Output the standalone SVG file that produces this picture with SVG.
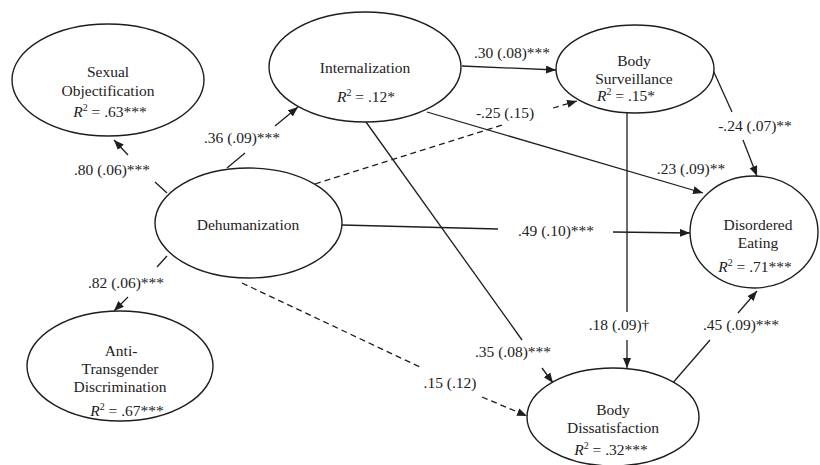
<svg xmlns="http://www.w3.org/2000/svg" width="820" height="465" viewBox="0 0 820 465">
  <defs>
    <marker id="arrow" markerUnits="userSpaceOnUse" markerWidth="11" markerHeight="9" refX="10" refY="4" orient="auto">
      <path d="M0,0 L10,4 L0,8 Z" fill="#1e1e1e"/>
    </marker>
    <style>
      .node ellipse { fill: #ffffff; stroke: #1e1e1e; stroke-width: 1.4; }
      text { font-family: "Liberation Serif", "Times New Roman", serif; font-size: 15.5px; fill: #222; text-anchor: middle; }
      .r { font-style: italic; }
      .sup { font-size: 10px; }
      .edge { stroke: #1e1e1e; stroke-width: 1.3; fill: none; }
      .arr { marker-end: url(#arrow); }
      .dash { stroke-dasharray: 6 4; }
    </style>
  </defs>
  <rect width="820" height="465" fill="#ffffff"/>

  <!-- paths (each path is drawn in two pieces around its coefficient label) -->
  <g id="connectors">
    <!-- Dehumanization -> Sexual Objectification -->
    <line class="edge" x1="167" y1="193" x2="155" y2="182"/>
    <line class="edge arr" x1="128" y1="155" x2="114" y2="140"/>
    <!-- Dehumanization -> Internalization -->
    <line class="edge" x1="227" y1="168" x2="245" y2="153"/>
    <line class="edge arr" x1="275" y1="126" x2="298" y2="107"/>
    <!-- Internalization -> Body Surveillance -->
    <line class="edge arr" x1="462" y1="66" x2="556" y2="70"/>
    <!-- Dehumanization -> Body Surveillance (n.s.) -->
    <line class="edge dash" x1="315" y1="184" x2="502" y2="125"/>
    <line class="edge dash arr" x1="553" y1="108" x2="577" y2="101"/>
    <!-- Internalization -> Disordered Eating -->
    <line class="edge arr" x1="427" y1="112" x2="703" y2="193"/>
    <!-- Internalization -> Body Dissatisfaction -->
    <line class="edge" x1="366" y1="122" x2="522" y2="340"/>
    <line class="edge arr" x1="542" y1="368" x2="553" y2="383"/>
    <!-- Body Surveillance -> Disordered Eating -->
    <line class="edge" x1="713" y1="70" x2="732" y2="112"/>
    <line class="edge arr" x1="743" y1="140" x2="757" y2="176"/>
    <!-- Body Surveillance -> Body Dissatisfaction -->
    <line class="edge" x1="627" y1="113" x2="627" y2="312"/>
    <line class="edge arr" x1="627" y1="340" x2="627" y2="368"/>
    <!-- Dehumanization -> Disordered Eating -->
    <line class="edge" x1="342" y1="225" x2="498" y2="229"/>
    <line class="edge arr" x1="613" y1="232" x2="690" y2="233"/>
    <!-- Body Dissatisfaction -> Disordered Eating -->
    <line class="edge" x1="671" y1="385" x2="710" y2="340"/>
    <line class="edge arr" x1="738" y1="313" x2="757" y2="291"/>
    <!-- Dehumanization -> Anti-Transgender Discrimination -->
    <line class="edge" x1="167" y1="256" x2="157" y2="267"/>
    <line class="edge arr" x1="128" y1="297" x2="114" y2="311"/>
    <!-- Dehumanization -> Body Dissatisfaction (n.s.) -->
    <line class="edge dash" x1="242" y1="283" x2="422" y2="368"/>
    <line class="edge dash arr" x1="482" y1="397" x2="527" y2="416"/>
  </g>

  <!-- path coefficients -->
  <g id="coefficients">
    <text x="112" y="175">.80 (.06)***</text>
    <text x="242" y="143">.36 (.09)***</text>
    <text x="512" y="58">.30 (.08)***</text>
    <text x="505" y="118">-.25 (.15)</text>
    <text x="755" y="131">-.24 (.07)**</text>
    <text x="691" y="174">.23 (.09)**</text>
    <text x="556" y="236">.49 (.10)***</text>
    <text x="126" y="288">.82 (.06)***</text>
    <text x="513" y="357">.35 (.08)***</text>
    <text x="619" y="330">.18 (.09)†</text>
    <text x="450" y="388">.15 (.12)</text>
    <text x="741" y="330">.45 (.09)***</text>
  </g>

  <g id="sexual-objectification" class="node">
    <ellipse cx="108" cy="80" rx="96" ry="56"/>
    <text x="108" y="77">Sexual</text>
    <text x="108" y="96">Objectification</text>
    <text x="110" y="117"><tspan class="r">R</tspan><tspan class="sup" dy="-6">2</tspan><tspan dy="6"> = .63***</tspan></text>
  </g>

  <g id="internalization" class="node">
    <ellipse cx="365" cy="67" rx="96" ry="55"/>
    <text x="365" y="73">Internalization</text>
    <text x="366" y="102"><tspan class="r">R</tspan><tspan class="sup" dy="-6">2</tspan><tspan dy="6"> = .12*</tspan></text>
  </g>

  <g id="body-surveillance" class="node">
    <ellipse cx="635" cy="69" rx="79" ry="44"/>
    <text x="634" y="66">Body</text>
    <text x="634" y="84">Surveillance</text>
    <text x="626" y="101"><tspan class="r">R</tspan><tspan class="sup" dy="-6">2</tspan><tspan dy="6"> = .15*</tspan></text>
  </g>

  <g id="dehumanization" class="node">
    <ellipse cx="248.5" cy="223" rx="93.5" ry="55"/>
    <text x="248" y="230">Dehumanization</text>
  </g>

  <g id="anti-transgender-discrimination" class="node">
    <ellipse cx="120" cy="366" rx="93" ry="55"/>
    <text x="121" y="356">Anti-</text>
    <text x="120" y="374">Transgender</text>
    <text x="120" y="392">Discrimination</text>
    <text x="127" y="416"><tspan class="r">R</tspan><tspan class="sup" dy="-6">2</tspan><tspan dy="6"> = .67***</tspan></text>
  </g>

  <g id="disordered-eating" class="node">
    <ellipse cx="754" cy="232" rx="64" ry="56"/>
    <text x="758" y="230">Disordered</text>
    <text x="758" y="248">Eating</text>
    <text x="755" y="272"><tspan class="r">R</tspan><tspan class="sup" dy="-6">2</tspan><tspan dy="6"> = .71***</tspan></text>
  </g>

  <g id="body-dissatisfaction" class="node">
    <ellipse cx="613" cy="417" rx="86" ry="49"/>
    <text x="613" y="415">Body</text>
    <text x="613" y="433">Dissatisfaction</text>
    <text x="611" y="455"><tspan class="r">R</tspan><tspan class="sup" dy="-6">2</tspan><tspan dy="6"> = .32***</tspan></text>
  </g>
</svg>
